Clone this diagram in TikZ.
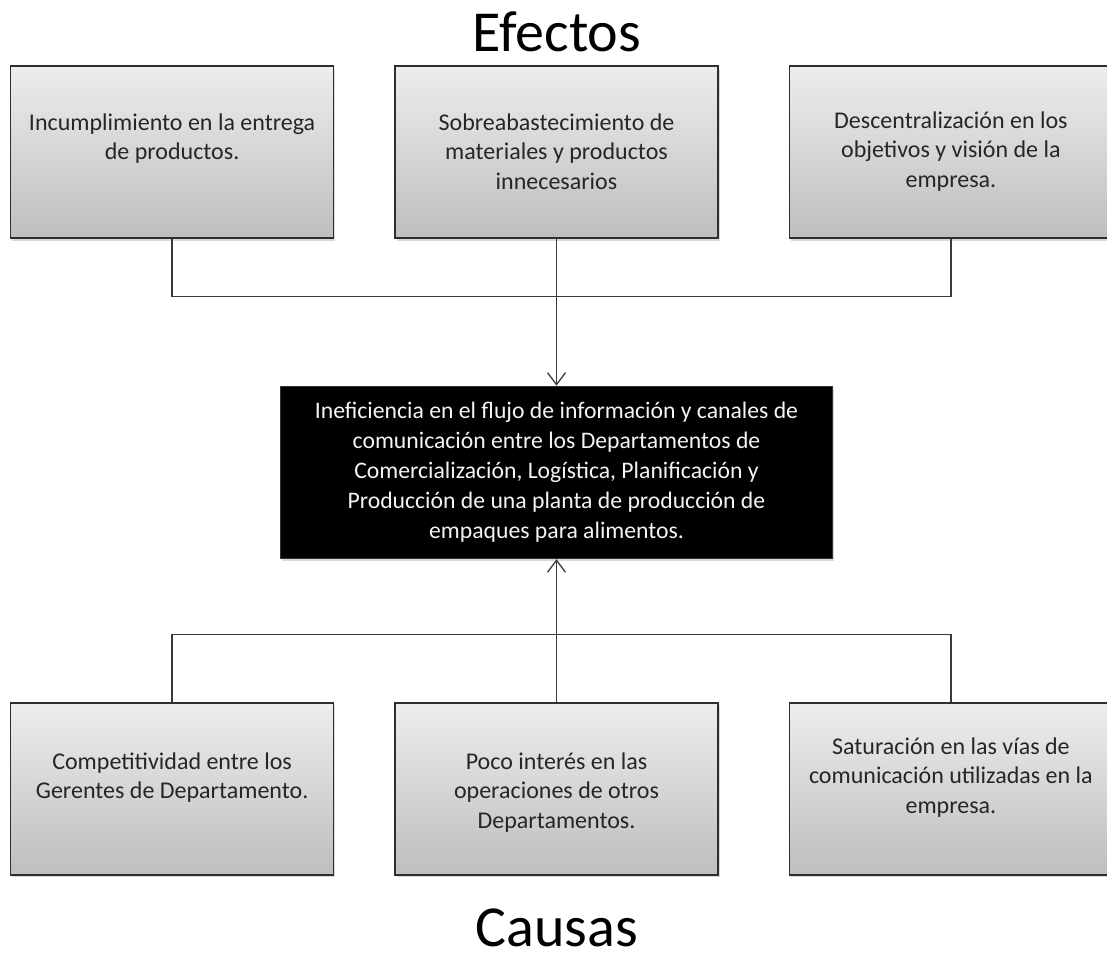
\documentclass[tikz,border=0pt]{standalone}
\usepackage{fontspec}
\setmainfont{Carlito}
\usepackage{xcolor}
\usetikzlibrary{arrows.meta,positioning,shadows}
\definecolor{boxtop}{HTML}{EDEDED}
\definecolor{boxbot}{HTML}{BEBEBE}
\definecolor{edge}{HTML}{2E2E2E}
\definecolor{ink}{HTML}{262626}
\definecolor{linegray}{HTML}{3A3A3A}
\definecolor{paper}{HTML}{F4F4F4}
\tikzset{
  greybox/.style={
    draw=edge,line width=1.4pt,top color=boxtop,bottom color=boxbot,
    minimum width=323pt,minimum height=172pt,inner sep=0pt,
    drop shadow={shadow xshift=1.5pt,shadow yshift=-2.5pt,opacity=.3}
  },
  boxtext/.style={
    inner sep=0pt,align=center,text=ink,
    font=\fontsize{24}{29.5}\selectfont
  },
  problembox/.style={
    draw=black!80,line width=1.5pt,fill=black,
    minimum width=552pt,minimum height=172pt,inner sep=0pt,
    align=center,text=paper,font=\fontsize{23.7}{30}\selectfont,
    drop shadow={shadow xshift=1.5pt,shadow yshift=-2.5pt,opacity=.3}
  },
  heading/.style={inner sep=0pt,text=black,font=\fontsize{58}{60}\selectfont},
  wire/.style={draw=linegray,line width=1.3pt},
  arrow/.style={wire,-{Straight Barb[length=12pt,width=18pt]}}
}
\begin{document}
\begin{tikzpicture}[x=1pt,y=-1pt]
\useasboundingbox (0,0) rectangle (1107,958);

\node[heading,anchor=base] (efectos) at (557,52) {Efectos};

\node[greybox] (sobre) at (556.5,152) {};
\node[greybox,left=60pt of sobre] (incum) {};
\node[greybox,right=70pt of sobre] (descen) {};

\node[boxtext,below=48pt of incum.north] (incumT)
{Incumplimiento en la entrega\\de productos.};
\node[boxtext,below=48pt of sobre.north] (sobreT)
{Sobreabastecimiento de\\materiales y productos\\innecesarios};
\node[boxtext,below=46pt of descen.north] (descenT)
{Descentralización en los\\objetivos y visión de la\\empresa.};

\node[problembox,below=147pt of sobre] (prob)
{Ineficiencia en el flujo de información y canales de\\
comunicación entre los Departamentos de\\
Comercialización, Logística, Planificación y\\
Producción de una planta de producción de\\
empaques para alimentos.};

\node[greybox,below=143pt of prob] (poco) {};
\node[greybox,left=60pt of poco] (compet) {};
\node[greybox,right=70pt of poco] (satur) {};

\node[boxtext,below=50pt of compet.north] (competT)
{Competitividad entre los\\Gerentes de Departamento.};
\node[boxtext,below=50pt of poco.north] (pocoT)
{Poco interés en las\\operaciones de otros\\Departamentos.};
\node[boxtext,below=35pt of satur.north] (saturT)
{Saturación en las vías de\\comunicación utilizadas en la\\empresa.};

\node[heading,anchor=base] (causas) at (557,946) {Causas};

% efectos -> problema
\coordinate[below=58pt of incum.south] (topjoin);
\draw[wire] (incum.south) -- (topjoin) -| (descen.south);
\draw[arrow] (sobre.south) -- (prob.north);

% causas -> problema
\coordinate[above=68pt of compet.north] (botjoin);
\draw[wire] (compet.north) -- (botjoin) -| (satur.north);
\draw[arrow] (poco.north) -- (prob.south);
\end{tikzpicture}
\end{document}
